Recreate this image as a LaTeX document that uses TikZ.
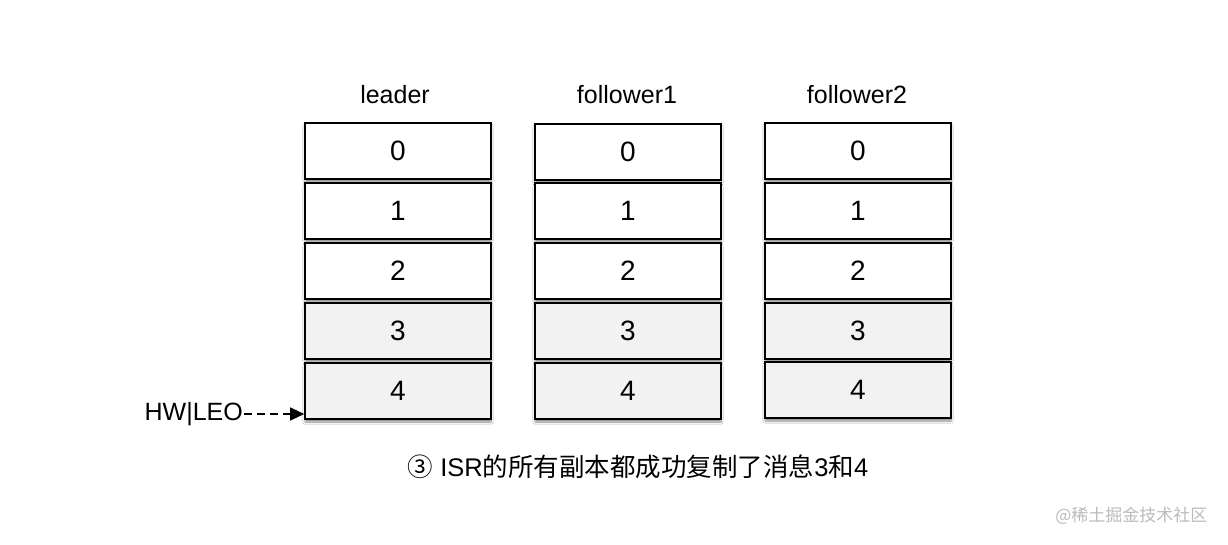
\documentclass[tikz,border=0pt]{standalone}
\usepackage{fontspec}
\setmainfont{Liberation Sans}
\newfontfamily\cjk{Noto Sans CJK SC}
\usetikzlibrary{arrows.meta,shadows.blur}
\definecolor{cellgray}{HTML}{F2F2F2}
\definecolor{wm}{HTML}{BBBBBB}
\begin{document}
\begin{tikzpicture}[x=1pt,y=-1pt,
  cell/.style={draw=black, line width=1.6pt, minimum width=186pt, minimum height=56pt,
    inner sep=0pt, font=\fontsize{28}{32}\selectfont,
    blur shadow={shadow xshift=0pt, shadow yshift=-3pt, shadow blur steps=6, shadow opacity=45}},
  white cell/.style={cell, fill=white},
  gray cell/.style={cell, fill=cellgray},
  title/.style={font=\fontsize{25}{30}\selectfont},
  pointer/.style={line width=1.3pt, dash pattern=on 8pt off 5pt, -{Triangle[length=14pt,width=13pt]}}
]
\useasboundingbox (0,0) rectangle (1228,544);
\fill[white] (0,0) rectangle (1228,544);

% column titles
\node[title] (tl) at (395,95) {leader};
\node[title] (tf1) at (627,95) {follower1};
\node[title] (tf2) at (857,95) {follower2};

% leader
\node[white cell] (L0) at (398,151) {0};
\node[white cell] (L1) at (398,211) {1};
\node[white cell] (L2) at (398,271) {2};
\node[gray cell]  (L3) at (398,331) {3};
\node[gray cell]  (L4) at (398,391) {4};

% follower1
\node[white cell] (A0) at (628,152) {0};
\node[white cell] (A1) at (628,211) {1};
\node[white cell] (A2) at (628,271) {2};
\node[gray cell]  (A3) at (628,331) {3};
\node[gray cell]  (A4) at (628,391) {4};

% follower2
\node[white cell] (B0) at (858,151) {0};
\node[white cell] (B1) at (858,211) {1};
\node[white cell] (B2) at (858,271) {2};
\node[gray cell]  (B3) at (858,331) {3};
\node[gray cell]  (B4) at (858,390) {4};

% HW|LEO pointer
\node[title, anchor=east, inner sep=1pt] (hw) at (244,414) {HW|LEO};
\draw[pointer] (hw.east) -- (hw.east -| L4.west);

% caption
\node[font=\fontsize{25.5}{30}\selectfont] (cap) at (638,467) {{\cjk ③} ISR{\cjk 的所有副本都成功复制了消息}3{\cjk 和}4};

% watermark
\node[font=\fontsize{17}{20}\selectfont\cjk, text=wm, anchor=east] (wmk) at (1211,516) {@稀土掘金技术社区};
\end{tikzpicture}
\end{document}
